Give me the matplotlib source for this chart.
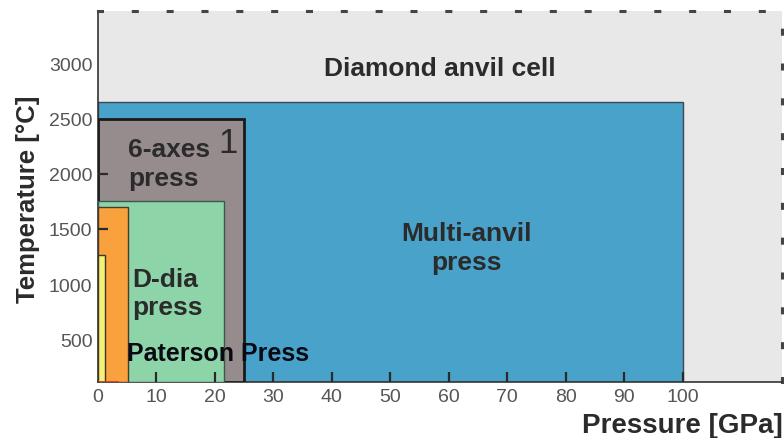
import matplotlib.pyplot as plt
from matplotlib.patches import Rectangle

plt.rcParams['font.family'] = ['Liberation Sans', 'DejaVu Sans']

# apparatus ranges: (name, max pressure GPa, max temperature C)
names = ['Multi-anvil', '6-axes', 'D-dia', 'orange', 'yellow', 'red']
p_max = [100, 25, 21.5, 5.2, 1.2, 3.5]
t_max = [2650, 2500, 1750, 1700, 1260, 125]
fills = ['#48a2c9', '#968c8e', '#8dd5a8', '#f9a13c', '#f6ef78', '#e0301e']
edges = ['#3a4a55', '#1a1a1a', '#3a5a48', '#4a3a2a', '#3a3a20', '#e0301e']
widths = [1.0, 2.0, 1.0, 1.0, 1.0, 0.5]

x_ticks = [0, 10, 20, 30, 40, 50, 60, 70, 80, 90, 100]
y_ticks = [500, 1000, 1500, 2000, 2500, 3000]

fig = plt.figure(figsize=(7.84, 4.39), dpi=100)
ax = fig.add_axes([0.125, 0.1276, 0.8725, 0.845])
ax.set_facecolor('#e8e8e8')
ax.set_xlim(0, 117)
ax.set_ylim(113, 3474)

for i in range(len(names)):
    ax.add_patch(Rectangle((0, 113), p_max[i], t_max[i] - 113,
                           facecolor=fills[i], edgecolor=edges[i],
                           linewidth=widths[i], zorder=2 + i))

txt = '#2b2b2b'
ax.text(58.5, 2960, 'Diamond anvil cell', ha='center', va='center',
        fontsize=19, fontweight='bold', color=txt, zorder=10)
ax.text(63, 1330, 'Multi-anvil\npress', ha='center', va='center',
        fontsize=19, fontweight='bold', color=txt, zorder=10, linespacing=1.25)
ax.text(5.2, 2090, '6-axes\npress', ha='left', va='center',
        fontsize=19, fontweight='bold', color=txt, zorder=10, linespacing=1.25)
ax.text(22.3, 2280, '1', ha='center', va='center',
        fontsize=25, color=txt, zorder=10)
ax.text(5.8, 920, 'D-dia\npress', ha='left', va='center',
        fontsize=19, fontweight='bold', color=txt, zorder=10, linespacing=1.2)
ax.text(5.0, 380, 'Paterson Press', ha='left', va='center',
        fontsize=18, fontweight='bold', color='#0a0a14', zorder=10)

ax.set_xticks(x_ticks)
ax.set_yticks(y_ticks)
ax.tick_params(axis='both', direction='in', length=7, width=1.6,
               color='#2a2a2a', labelsize=14, labelcolor='#555555', pad=4)
for t, v in zip(ax.yaxis.get_major_ticks(), y_ticks):
    t.tick1line.set_visible(v in (1500, 2000))
ax.xaxis.get_major_ticks()[0].tick1line.set_visible(False)
ax.xaxis.set_zorder(30)
ax.yaxis.set_zorder(30)

for s in ['left', 'bottom']:
    ax.spines[s].set_color('#333333')
    ax.spines[s].set_linewidth(1.2)
for s in ['top', 'right']:
    ax.spines[s].set_color('#444444')
    ax.spines[s].set_linewidth(2.2)
    ax.spines[s].set_linestyle((0, (1.3, 10.1)))

fig.text(0.998, 0.03, 'Pressure [GPa]', ha='right', va='center',
         fontsize=20, fontweight='bold', color='#2b2b2b')
fig.text(0.036, 0.545, 'Temperature [°C]', ha='center', va='center',
         rotation=90, fontsize=18.5, fontweight='bold', color='#2b2b2b')

fig.savefig('out.png', dpi=100)
